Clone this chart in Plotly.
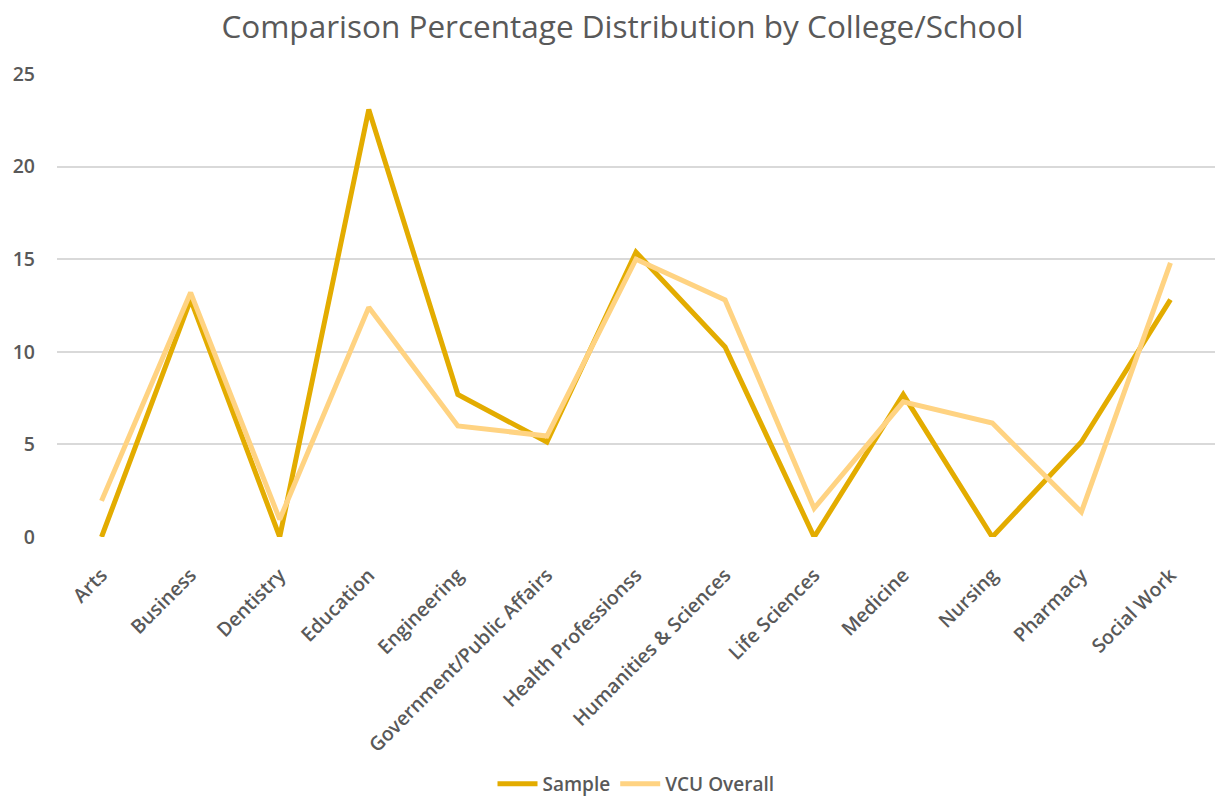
import plotly.graph_objects as go

colleges = [
    "Arts", "Business", "Dentistry", "Education", "Engineering",
    "Government/Public Affairs", "Health Professionss", "Humanities & Sciences",
    "Life Sciences", "Medicine", "Nursing", "Pharmacy", "Social Work",
]
sample_pct = [0, 12.82, 0, 23.08, 7.69, 5.13, 15.38, 10.26, 0, 7.69, 0, 5.13, 12.82]
vcu_overall_pct = [1.95, 13.2, 0.95, 12.4, 6.0, 5.45, 15.0, 12.8, 1.55, 7.3, 6.15, 1.35, 14.8]
y_ticks = [0, 5, 10, 15, 20, 25]

text_color = "#595959"
font_family = "Open Sans, Lato, sans-serif"

fig = go.Figure()
fig.add_trace(go.Scatter(
    x=colleges, y=sample_pct, name="Sample", mode="lines",
    line=dict(color="#E3AC00", width=5),
))
fig.add_trace(go.Scatter(
    x=colleges, y=vcu_overall_pct, name="VCU Overall", mode="lines",
    line=dict(color="#FFD382", width=5),
))

fig.update_layout(
    width=1218, height=801,
    margin=dict(l=57, r=3, t=74, b=264, autoexpand=False),
    paper_bgcolor="white", plot_bgcolor="white",
    font=dict(family=font_family, color=text_color),
    title=dict(
        text="Comparison Percentage Distribution by College/School",
        x=0.511, xanchor="center", y=0.966, yanchor="middle",
        font=dict(size=31.5, color=text_color, family=font_family),
    ),
    showlegend=True,
    legend=dict(
        orientation="h", x=0.5, xanchor="center", y=-0.5335, yanchor="middle",
        font=dict(size=19, color=text_color, weight=600),
        itemwidth=40, traceorder="normal",
        borderwidth=0, tracegroupgap=0,
    ),
    xaxis=dict(
        type="category", range=[-0.5, 12.5], automargin=False,
        tickangle=-45, tickfont=dict(size=19.5, color=text_color, weight=600),
        showgrid=False, showline=False, zeroline=False, ticks="",
        ticklabelstandoff=22,
    ),
    yaxis=dict(
        range=[0, 25], tickvals=y_ticks, automargin=False,
        tickfont=dict(size=19.5, color=text_color, weight=600),
        showgrid=True, gridcolor="#D9D9D9", gridwidth=1.5,
        zeroline=False, showline=False, ticks="",
        ticklabelstandoff=21,
    ),
)

fig.write_html("out.html")
